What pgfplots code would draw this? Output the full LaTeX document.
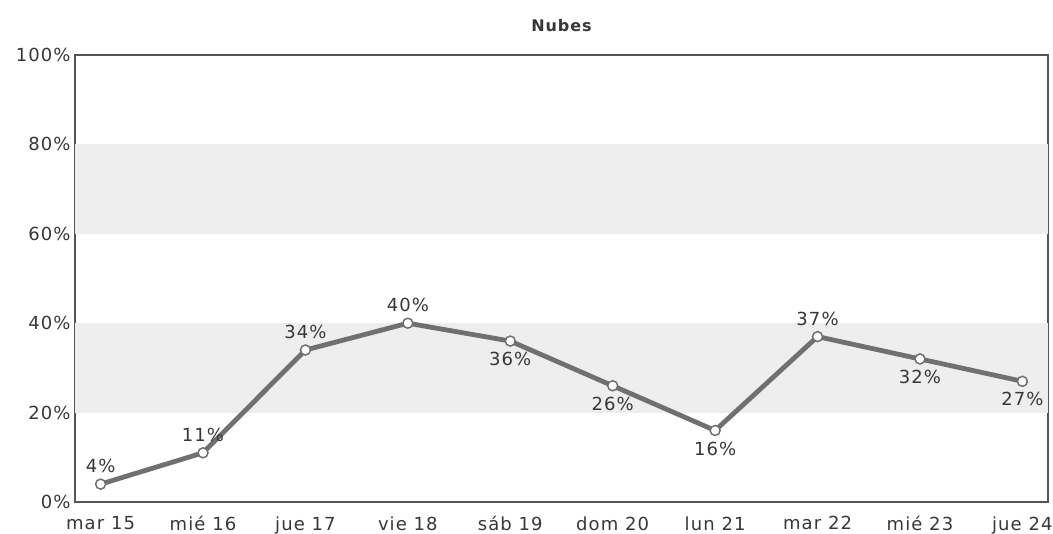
\documentclass[border=0pt]{standalone}
\usepackage{fontspec}
\setmainfont{DejaVu Sans}[LetterSpace=6]
\usepackage{pgfplots}
\usepackage{pgfplotstable}
\pgfplotsset{compat=1.18}

\definecolor{linegray}{RGB}{112,112,112}
\definecolor{bandgray}{RGB}{238,238,238}
\definecolor{framegray}{RGB}{85,85,85}
\definecolor{textgray}{RGB}{55,55,55}

% cloud cover (%) per day, split by where its label sits
\pgfplotstableread{
x y
0 4
1 11
2 34
3 40
7 37
}\nubesabove
\pgfplotstableread{
x y
4 36
5 26
6 16
8 32
9 27
}\nubesbelow
\pgfplotstableread{
x y
0 4
1 11
2 34
3 40
4 36
5 26
6 16
7 37
8 32
9 27
}\nubes

\begin{document}
\begin{tikzpicture}
\path[use as bounding box] (-75pt,-32pt) rectangle (978pt,502pt);
\begin{axis}[
  scale only axis,
  width=973pt, height=447pt,
  xmin=-0.25, xmax=9.25,
  ymin=0, ymax=100,
  xtick={0,...,9},
  xticklabels={mar 15,mié 16,jue 17,vie 18,sáb 19,dom 20,lun 21,mar 22,mié 23,jue 24},
  ytick={0,20,40,60,80,100},
  yticklabels={0\%,20\%,40\%,60\%,80\%,100\%},
  major tick length=0pt,
  tick label style={font=\fontsize{18}{21}\selectfont, text=textgray},
  xticklabel style={yshift=-11pt},
  yticklabel style={xshift=-1pt},
  axis line style={draw=framegray, line width=2.6pt},
  title={\bfseries Nubes},
  title style={font=\fontsize{16}{19}\selectfont, text=textgray, yshift=14pt},
  /pgf/number format/assume math mode=true,
  clip=false,
  label node/.style={
    draw=none, mark=none, forget plot,
    nodes near coords={\pgfmathprintnumber{\pgfplotspointmeta}\%},
    every node near coord/.append style={
      anchor=center, font=\fontsize{18}{21}\selectfont, text=textgray},
  },
]
% horizontal bands
\fill[bandgray] (axis cs:-0.25,20) rectangle (axis cs:9.25,40);
\fill[bandgray] (axis cs:-0.25,60) rectangle (axis cs:9.25,80);

\addplot[
  color=linegray, line width=4.8pt,
  mark=*, mark size=5pt,
  mark options={fill=white, draw=linegray, line width=1.5pt},
] table[x=x, y=y] {\nubes};

\addplot[label node, every node near coord/.append style={yshift=18pt}]
  table[x=x, y=y] {\nubesabove};
\addplot[label node, every node near coord/.append style={yshift=-18pt}]
  table[x=x, y=y] {\nubesbelow};
\end{axis}
\end{tikzpicture}
\end{document}
